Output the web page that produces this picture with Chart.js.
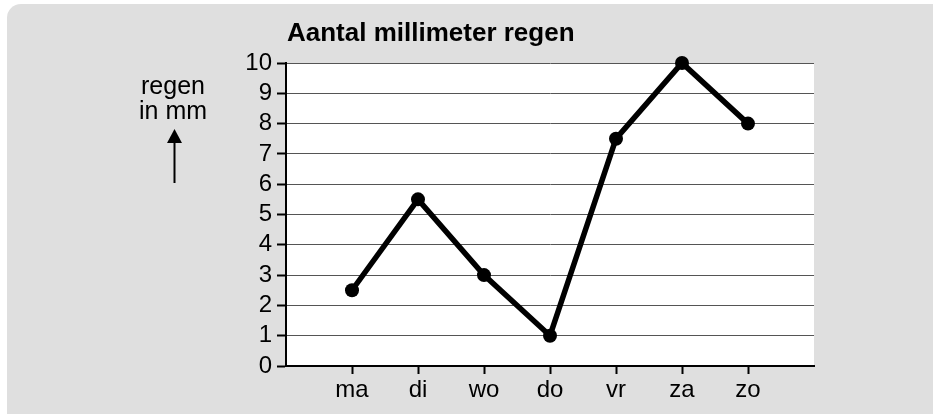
<!DOCTYPE html>
<html>
<head>
<meta charset="utf-8">
<script src="https://cdn.jsdelivr.net/npm/chart.js@4"></script>
<style>
html,body{margin:0;padding:0;background:#fff;}
#wrap{width:933px;height:414px;position:relative;}
</style>
</head>
<body>
<div id="wrap"><canvas id="c" width="933" height="414"></canvas></div>
<script>
const categories = ['ma', 'di', 'wo', 'do', 'vr', 'za', 'zo'];
const rainMm = [2.5, 5.5, 3, 1, 7.5, 10, 8];
const yTicks = [0, 1, 2, 3, 4, 5, 6, 7, 8, 9, 10];
const titleText = 'Aantal millimeter regen';
const yLabelLines = ['regen', 'in mm'];

const FONT = "'Liberation Sans', Arial, Helvetica, sans-serif";

const points = rainMm.map((v, i) => ({ x: i + 1, y: v }));

const decor = {
  id: 'decor',
  beforeDraw(chart) {
    const ctx = chart.ctx;
    const a = chart.chartArea;
    ctx.save();
    ctx.fillStyle = '#ffffff';
    ctx.fillRect(0, 0, chart.width, chart.height);
    ctx.fillStyle = '#dfdfdf';
    ctx.beginPath();
    ctx.roundRect(7, 4, chart.width + 20, chart.height + 20, 14);
    ctx.fill();
    ctx.fillStyle = '#ffffff';
    ctx.fillRect(a.left, a.top, a.right - a.left, a.bottom - a.top);
    ctx.restore();
  },
  afterDraw(chart) {
    const ctx = chart.ctx;
    const a = chart.chartArea;
    ctx.save();
    ctx.fillStyle = '#000';
    ctx.font = "bold 26px " + FONT;
    ctx.textAlign = 'left';
    ctx.textBaseline = 'alphabetic';
    ctx.fillText(titleText, a.left + 1, 41);
    ctx.font = "25px " + FONT;
    ctx.textAlign = 'center';
    ctx.fillText(yLabelLines[0], 173, 94);
    ctx.fillText(yLabelLines[1], 173, 119);
    // arrow
    ctx.strokeStyle = '#000';
    ctx.lineWidth = 2;
    ctx.beginPath();
    ctx.moveTo(174.5, 183);
    ctx.lineTo(174.5, 140);
    ctx.stroke();
    ctx.beginPath();
    ctx.moveTo(174.5, 129);
    ctx.lineTo(182, 143);
    ctx.lineTo(167, 143);
    ctx.closePath();
    ctx.fill();
    ctx.restore();
  }
};

new Chart(document.getElementById('c'), {
  type: 'line',
  data: {
    datasets: [{
      data: points,
      borderColor: '#000',
      borderWidth: 5.5,
      pointRadius: 7,
      pointHoverRadius: 7,
      pointBackgroundColor: '#000',
      pointBorderColor: '#000',
      pointBorderWidth: 0,
      tension: 0,
      clip: false
    }]
  },
  options: {
    responsive: false,
    animation: false,
    events: [],
    layout: { padding: { left: 0, top: 63, right: 119, bottom: 0 } },
    plugins: { legend: { display: false }, tooltip: { enabled: false }, title: { display: false } },
    scales: {
      x: {
        type: 'linear',
        min: 0,
        max: categories.length + 1,
        afterFit(scale) { scale.height = 48; },
        afterBuildTicks(scale) {
          scale.ticks = categories.map((c, i) => ({ value: i + 1 }));
        },
        ticks: {
          autoSkip: false,
          maxRotation: 0,
          padding: 2,
          color: '#000',
          font: { family: FONT, size: 24 },
          callback: (v) => categories[v - 1] ?? ''
        },
        grid: { drawOnChartArea: false, drawTicks: true, tickLength: 8, tickColor: '#000', tickWidth: 2 },
        border: { display: true, color: '#000', width: 2 }
      },
      y: {
        min: 0,
        max: 10,
        afterFit(scale) { scale.width = 286; },
        afterBuildTicks(scale) {
          scale.ticks = yTicks.map(v => ({ value: v }));
        },
        ticks: {
          autoSkip: false,
          padding: 5,
          color: '#000',
          font: { family: FONT, size: 24 },
          callback: (v) => String(v)
        },
        grid: { color: '#555', lineWidth: 1, tickLength: 9, tickColor: '#000', tickWidth: 2 },
        border: { display: true, color: '#000', width: 2 }
      }
    }
  },
  plugins: [decor]
});
</script>
</body>
</html>
